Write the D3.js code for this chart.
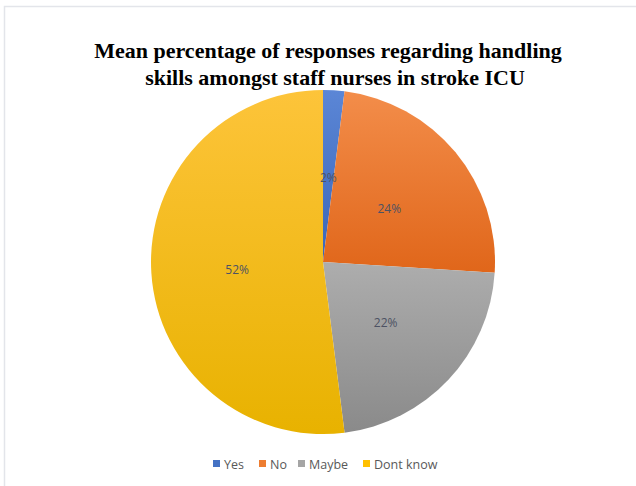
<!DOCTYPE html>
<html>
<head>
<meta charset="utf-8">
<script src="https://cdn.jsdelivr.net/npm/d3@7"></script>
<style>
  html, body { margin: 0; padding: 0; background: #fff; }
  svg { display: block; }
</style>
</head>
<body>
<svg id="chart" width="636" height="486"></svg>
<script>
// Response categories and their mean percentages
const categories = ["Yes", "No", "Maybe", "Dont know"];
const values = [2, 24, 22, 52];
// Slice fill: light (top) and dark (bottom) gradient stops
const lightColors = ["#5b86d6", "#f38d4a", "#adadad", "#fdc43a"];
const darkColors = ["#3a66b8", "#e0661a", "#8a8a8a", "#e8b200"];
const legendColors = ["#4472c4", "#ed7d31", "#a5a5a5", "#ffc000"];
const titleLines = [
  "Mean percentage of responses regarding handling",
  "skills amongst staff nurses in stroke ICU"
];

const svg = d3.select("#chart");
const W = 636, H = 486;

// light frame around the chart area
svg.append("path")
  .attr("d", `M4.5,${H} V6.5 H${W}`)
  .attr("fill", "none")
  .attr("stroke", "#e3e5ea")
  .attr("stroke-width", 1.5);

// title
svg.append("text")
  .attr("x", 329)
  .attr("y", 58)
  .attr("text-anchor", "middle")
  .attr("font-family", "'Liberation Serif', 'Times New Roman', serif")
  .attr("font-weight", "bold")
  .attr("font-size", 22)
  .attr("fill", "#000")
  .selectAll("tspan")
  .data(titleLines)
  .join("tspan")
  .attr("x", (d, i) => i === 0 ? 328 : 335)
  .attr("dy", (d, i) => i === 0 ? 0 : 27)
  .text(d => d);

// gradients
const defs = svg.append("defs");
categories.forEach((c, i) => {
  const g = defs.append("linearGradient")
    .attr("id", "grad" + i)
    .attr("x1", 0).attr("y1", 0).attr("x2", 0).attr("y2", 1);
  g.append("stop").attr("offset", "0%").attr("stop-color", lightColors[i]);
  g.append("stop").attr("offset", "100%").attr("stop-color", darkColors[i]);
});

const cx = 323, cy = 262, R = 172;
const pie = d3.pie().sort(null).value(d => d.value);
const arcs = pie(categories.map((c, i) => ({ name: c, value: values[i], i })));
const arc = d3.arc().innerRadius(0).outerRadius(R);
const labelArc = d3.arc().innerRadius(R * 0.5).outerRadius(R * 0.5);

const g = svg.append("g").attr("transform", `translate(${cx},${cy})`);
g.selectAll("path.slice")
  .data(arcs)
  .join("path")
  .attr("class", "slice")
  .attr("d", arc)
  .attr("fill", d => `url(#grad${d.data.i})`);

// slice labels
g.selectAll("text.lbl")
  .data(arcs)
  .join("text")
  .attr("class", "lbl")
  .attr("transform", d => {
    const [x, y] = labelArc.centroid(d);
    return `translate(${x},${y + 2})`;
  })
  .attr("text-anchor", "middle")
  .attr("dy", "0.35em")
  .attr("font-family", "'Open Sans', 'Liberation Sans', sans-serif")
  .attr("font-size", 12)
  .attr("fill", "#4d5263")
  .text(d => d.data.value + "%");

// legend
const legendX = [213, 259, 298, 363];
const legend = svg.append("g");
categories.forEach((c, i) => {
  legend.append("rect")
    .attr("x", legendX[i]).attr("y", 460)
    .attr("width", 7).attr("height", 7)
    .attr("fill", legendColors[i]);
  legend.append("text")
    .attr("x", legendX[i] + 11).attr("y", 468.5)
    .attr("font-family", "'Open Sans', 'Liberation Sans', sans-serif")
    .attr("font-size", 12.5)
    .attr("fill", "#595959")
    .text(c);
});
</script>
</body>
</html>
